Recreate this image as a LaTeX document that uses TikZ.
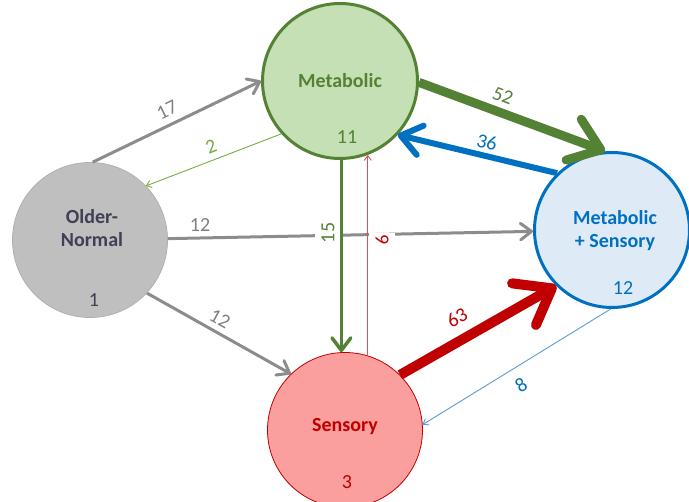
\documentclass[tikz,border=0pt]{standalone}
\usepackage{fontspec}
\setmainfont{Carlito}
\usetikzlibrary{arrows.meta}
\definecolor{gline}{HTML}{8C8C8C}
\definecolor{gtext}{HTML}{7F7F7F}
\definecolor{onfill}{HTML}{BFBFBF}
\definecolor{onborder}{HTML}{B0B0B0}
\definecolor{ontext}{HTML}{3F3F55}
\definecolor{mgreen}{HTML}{548235}
\definecolor{mfill}{HTML}{C5E0B4}
\definecolor{lgreen}{HTML}{70AD47}
\definecolor{sred}{HTML}{C00000}
\definecolor{lred}{HTML}{E05050}
\definecolor{sfill}{HTML}{FA9E9E}
\definecolor{mblue}{HTML}{0070C0}
\definecolor{lblue}{HTML}{5B9BD5}
\definecolor{msfill}{HTML}{DEEBF7}
\begin{document}
\begin{tikzpicture}[x=1pt,y=-1pt,
  state/.style={circle, minimum size=155pt, inner sep=0pt},
  nm/.style={font=\fontsize{20}{23}\selectfont\bfseries, align=center, inner sep=0pt},
  num/.style={font=\fontsize{20}{22}\selectfont, inner sep=1pt},
  tip/.style={-{Straight Barb[length=2pt 3, width=3pt 4.5, round]}},
  thinarr/.style={tip, line width=0.9pt},
  grayarr/.style={tip, line width=3pt, draw=gline}
]
\useasboundingbox (0,0) rectangle (689,502);
% states
\node[state, fill=onfill, draw=onborder, line width=0.8pt] (ON) at (90,240) {};
\node[state, fill=mfill, draw=mgreen, line width=3pt] (M) at (340,81) {};
\node[state, fill=sfill, draw=sred, line width=0.8pt] (S) at (345,430) {};
\node[state, fill=msfill, draw=mblue, line width=3pt] (MS) at (612,230) {};
% state texts
\node[nm, text=ontext] (tON) at (92,228) {Older-\\Normal};
\node[num, text=ontext] (nON) at (94,300) {1};
\node[nm, text=mgreen] (tM) at (340,81) {Metabolic};
\node[num, text=mgreen] (nM) at (347,137) {11};
\node[nm, text=sred] (tS) at (345,427) {Sensory};
\node[num, text=sred] (nS) at (347,482) {3};
\node[nm, text=mblue] (tMS) at (615,231) {Metabolic\\+ Sensory};
\node[num, text=mblue] (nMS) at (623,288) {12};
% gray connectors
\draw[grayarr] (ON.88) -- (M.180);
\draw[grayarr] (ON.1) -- (MS.181);
\draw[grayarr] (ON.317) -- (S.134);
\draw[thinarr, draw=lgreen] (M.222) -- (ON.44);
% labels interrupting the horizontal line
\node[num, text=mgreen, fill=white, rotate=90, inner ysep=6pt, inner xsep=2pt] (l15) at (328,233) {15};
\node[num, text=sred, fill=white, rotate=-90, inner ysep=7pt, inner xsep=2pt] (l9) at (382,240) {9};
% vertical connectors
\draw[tip, draw=mgreen, line width=3.5pt] (M.271) -- (M.271 |- S.north);
\draw[thinarr, draw=lred] (S.73) -- (S.73 |- M.290);
% thick connectors
\draw[tip, draw=mgreen, line width=9pt] (M.359) -- (MS.95);
\draw[tip, draw=mblue, line width=6pt] (MS.134) -- (M.317);
\draw[tip, draw=sred, line width=10pt] (S.45) -- (MS.225);
\draw[thinarr, draw=lblue] (MS.269) -- (S.4);
% connector labels
\node[num, text=gtext, rotate=26] (l17) at (167,110) {17};
\node[num, text=lgreen, rotate=21] (l2) at (211,147) {2};
\node[num, text=gtext] (l12a) at (200,225) {12};
\node[num, text=gtext, rotate=-29] (l12b) at (220,319) {12};
\node[num, text=mgreen, rotate=-21] (l52) at (503,96) {52};
\node[num, text=mblue, rotate=-14] (l36) at (487,142) {36};
\node[num, text=sred, rotate=30] (l63) at (457,318) {63};
\node[num, text=mblue, rotate=32] (l8) at (521,385) {8};
\end{tikzpicture}
\end{document}
